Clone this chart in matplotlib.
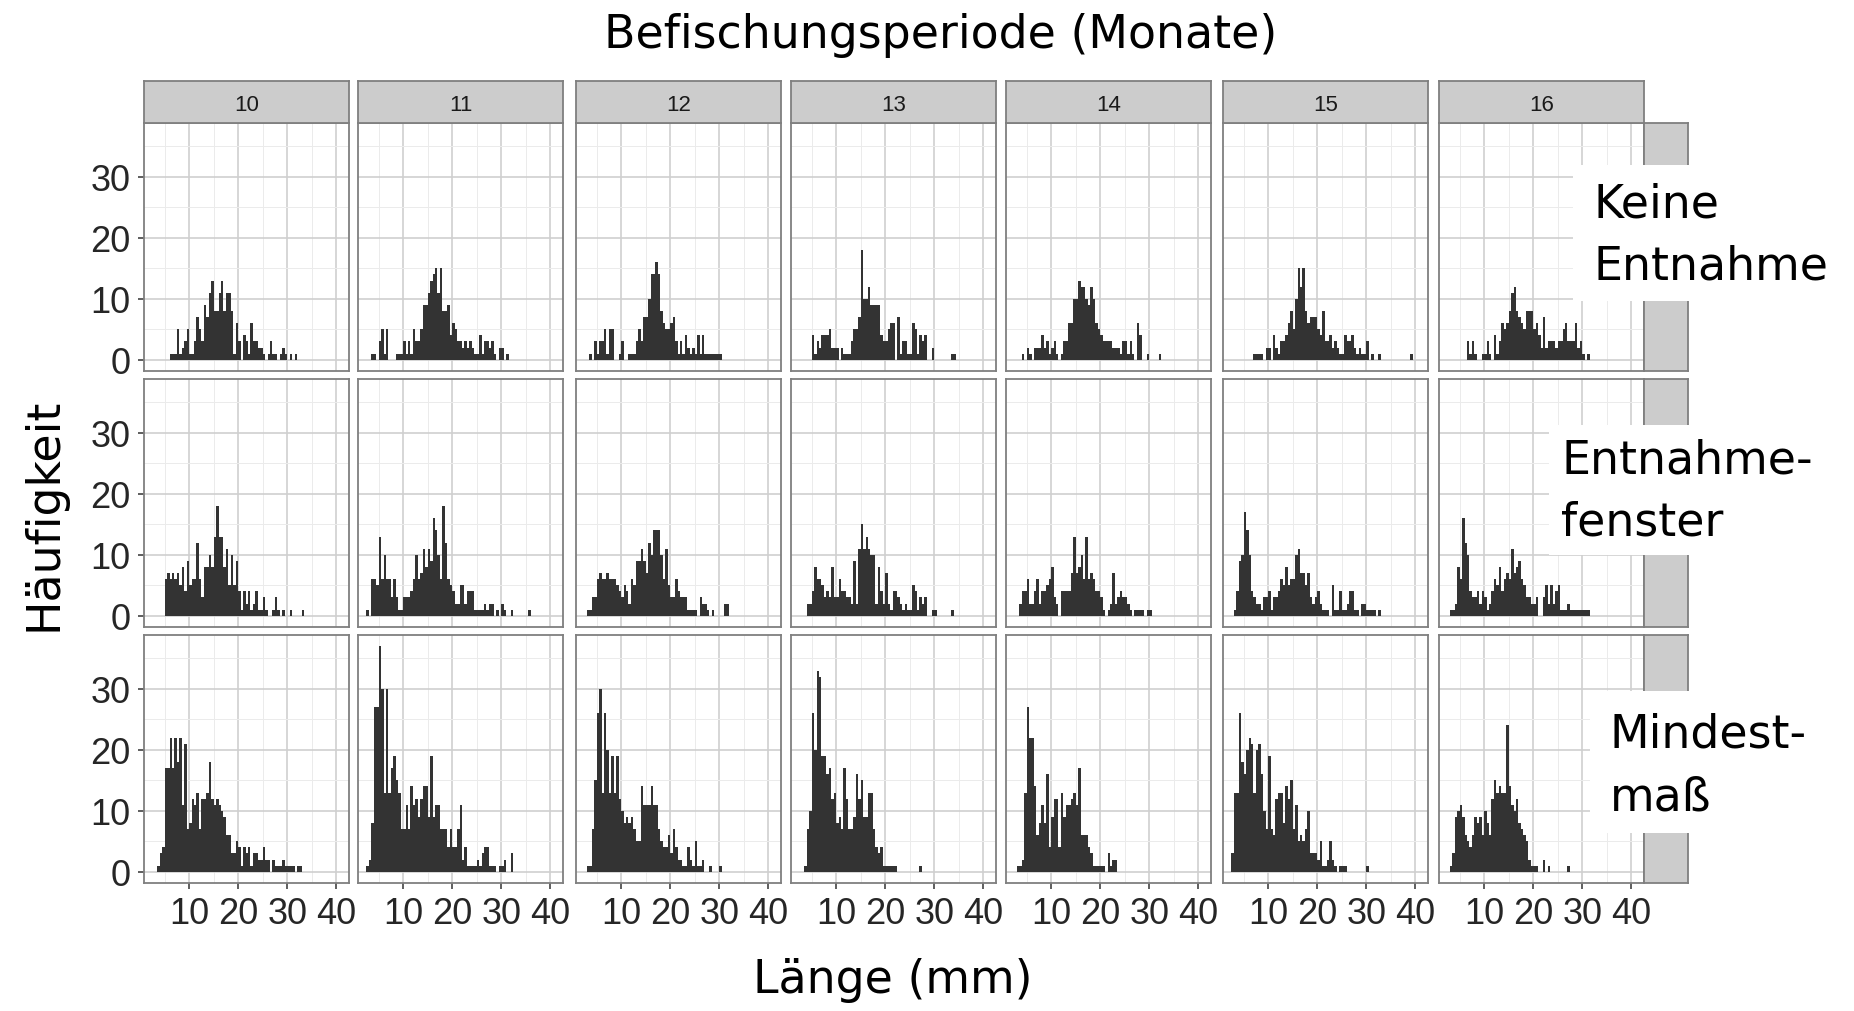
import matplotlib.pyplot as plt
from matplotlib.patches import Rectangle

# Facetten
monate = ['10', '11', '12', '13', '14', '15', '16']
behandlungen = ['Keine\nEntnahme', 'Entnahme-\nfenster', 'Mindest-\nmaß']
bin_breite = 0.5  # mm

# Keine Entnahme: Startwert (mm) der ersten Klasse und Häufigkeiten je 0.5-mm-Klasse
keine_start = [6.0, 3.5, 3.5, 5.0, 4.0, 7.0, 6.5]
keine_counts = [
    [1, 1, 1, 5, 1, 2, 3, 5, 1, 1, 3, 7, 5, 3, 9, 7, 11, 13, 8, 8, 11, 13, 8, 11, 11, 8, 1, 6, 3, 0,
     4, 3, 1, 6, 3, 3, 2, 2, 1, 0, 1, 3, 1, 1, 0, 1, 2, 1, 0, 1, 0, 1],
    [1, 1, 0, 3, 5, 1, 5, 0, 0, 0, 1, 1, 1, 3, 1, 3, 1, 5, 3, 3, 5, 9, 9, 11, 13, 14, 15, 11, 15, 8,
     8, 9, 4, 6, 5, 3, 3, 2, 3, 2, 3, 2, 1, 1, 4, 1, 3, 3, 2, 3, 1, 0, 2, 2, 0, 1],
    [1, 0, 3, 1, 3, 3, 5, 1, 5, 5, 0, 0, 1, 3, 0, 0, 1, 1, 1, 3, 5, 3, 7, 7, 10, 14, 14, 16, 14, 8,
     6, 5, 5, 6, 7, 3, 1, 3, 1, 4, 2, 1, 2, 1, 4, 1, 4, 1, 1, 1, 1, 1, 1, 1],
    [4, 1, 3, 2, 4, 4, 4, 5, 2, 2, 2, 0, 2, 1, 1, 1, 3, 5, 5, 7, 18, 10, 10, 12, 9, 9, 9, 9, 4, 3,
     3, 5, 6, 6, 0, 7, 1, 3, 3, 1, 1, 6, 5, 1, 4, 3, 4, 0, 0, 2, 0, 0, 0, 0, 0, 0, 0, 1, 1],
    [1, 0, 2, 1, 0, 2, 2, 2, 4, 2, 3, 1, 2, 3, 1, 0, 1, 3, 3, 6, 6, 10, 10, 13, 12, 12, 10, 9, 12, 10,
     6, 5, 4, 3, 3, 3, 3, 2, 2, 2, 1, 3, 3, 1, 3, 1, 0, 6, 4, 0, 0, 1, 0, 0, 0, 0, 1],
    [1, 1, 1, 1, 0, 2, 2, 0, 4, 2, 1, 3, 3, 4, 6, 8, 5, 10, 15, 12, 15, 8, 6, 7, 7, 7, 5, 4, 8, 3,
     3, 4, 2, 3, 2, 1, 1, 4, 3, 3, 4, 2, 1, 2, 1, 1, 3, 0, 1, 0, 0, 1, 0, 0, 0, 0, 0, 0, 0, 0,
     0, 0, 0, 0, 1],
    [3, 1, 3, 1, 0, 0, 1, 1, 3, 1, 0, 4, 1, 3, 6, 5, 6, 8, 11, 12, 8, 7, 6, 5, 8, 8, 8, 5, 6, 4,
     2, 7, 2, 3, 3, 3, 2, 3, 3, 5, 6, 3, 3, 3, 6, 2, 3, 1, 0, 1],
]

# Entnahmefenster
fenster_start = [5.0, 2.5, 3.0, 4.0, 3.5, 3.0, 3.0]
fenster_counts = [
    [6, 7, 6, 7, 6, 7, 5, 8, 4, 9, 5, 6, 6, 12, 6, 3, 8, 8, 10, 8, 13, 18, 13, 13, 8, 11, 5, 10, 5, 9,
     4, 1, 4, 2, 4, 1, 2, 4, 1, 1, 3, 1, 0, 0, 1, 3, 1, 0, 1, 0, 0, 1, 0, 0, 0, 0, 1],
    [1, 0, 6, 6, 5, 13, 6, 10, 6, 6, 3, 6, 3, 1, 1, 3, 3, 3, 4, 6, 10, 6, 7, 11, 8, 11, 9, 16, 14, 10,
     6, 18, 12, 6, 5, 4, 2, 2, 5, 5, 2, 4, 4, 4, 1, 1, 1, 1, 2, 1, 2, 2, 0, 1, 0, 2, 1, 0, 0, 1,
     0, 0, 0, 0, 0, 0, 1],
    [1, 1, 3, 3, 6, 7, 6, 6, 7, 6, 6, 6, 5, 4, 3, 5, 4, 2, 6, 5, 9, 9, 11, 9, 7, 12, 10, 14, 14, 14,
     10, 6, 11, 5, 3, 3, 6, 4, 3, 3, 3, 1, 1, 1, 1, 0, 3, 2, 2, 1, 0, 1, 0, 0, 0, 0, 2, 2],
    [2, 2, 4, 8, 6, 6, 5, 3, 4, 3, 8, 3, 3, 6, 4, 4, 3, 3, 2, 9, 2, 11, 15, 11, 13, 11, 10, 10, 2, 8,
     4, 2, 7, 2, 1, 4, 4, 3, 2, 1, 2, 1, 1, 5, 4, 1, 3, 2, 3, 0, 0, 1, 1, 0, 0, 0, 0, 0, 0, 1],
    [2, 4, 4, 6, 2, 2, 4, 6, 2, 4, 4, 5, 6, 8, 3, 2, 0, 4, 4, 4, 4, 7, 13, 7, 8, 10, 6, 13, 6, 7,
     6, 4, 4, 3, 1, 0, 1, 2, 7, 2, 3, 4, 3, 3, 2, 1, 0, 1, 1, 1, 1, 0, 1, 1],
    [1, 4, 9, 10, 17, 14, 10, 4, 3, 2, 2, 1, 3, 3, 4, 1, 3, 3, 4, 6, 5, 8, 5, 6, 6, 10, 11, 7, 7, 5,
     7, 3, 2, 3, 4, 2, 1, 1, 1, 0, 5, 1, 1, 4, 1, 1, 2, 4, 4, 1, 1, 0, 2, 2, 1, 1, 1, 1, 0, 1],
    [1, 1, 2, 8, 6, 16, 12, 10, 4, 3, 3, 4, 2, 4, 3, 1, 2, 4, 6, 5, 8, 4, 6, 7, 6, 11, 7, 8, 9, 6,
     5, 3, 3, 2, 2, 3, 0, 0, 3, 5, 2, 5, 2, 4, 5, 1, 1, 1, 2, 1, 1, 1, 1, 1, 1, 1, 1],
]

# Mindestmaß
mindest_start = [3.5, 2.5, 3.0, 3.5, 3.0, 2.5, 3.0]
mindest_counts = [
    [1, 3, 4, 17, 17, 22, 17, 22, 18, 22, 11, 21, 7, 8, 12, 11, 13, 7, 12, 12, 13, 18, 12, 11, 12, 11, 10, 9, 6, 6,
     3, 3, 5, 4, 1, 4, 3, 4, 1, 3, 3, 2, 2, 4, 2, 2, 0, 2, 1, 1, 1, 2, 1, 1, 1, 1, 0, 1, 1],
    [1, 2, 8, 27, 27, 37, 30, 13, 30, 13, 17, 19, 15, 13, 7, 7, 11, 7, 14, 11, 12, 9, 12, 14, 14, 9, 19, 9, 11, 11,
     7, 7, 7, 4, 7, 4, 4, 7, 11, 2, 4, 1, 1, 1, 1, 2, 1, 3, 4, 4, 1, 1, 1, 0, 1, 1, 2, 0, 0, 3],
    [1, 1, 7, 15, 26, 30, 13, 26, 20, 13, 19, 13, 19, 12, 10, 8, 9, 8, 9, 7, 5, 5, 14, 11, 11, 11, 14, 11, 11, 7,
     5, 4, 4, 6, 3, 7, 4, 2, 2, 1, 1, 4, 2, 1, 5, 1, 1, 2, 0, 0, 1, 0, 0, 0, 1],
    [1, 7, 10, 26, 20, 33, 32, 19, 19, 16, 17, 12, 13, 8, 9, 7, 17, 12, 7, 7, 9, 16, 12, 15, 9, 9, 13, 13, 7, 4,
     3, 4, 1, 1, 1, 1, 1, 1, 0, 0, 0, 0, 0, 0, 0, 0, 0, 1],
    [1, 1, 2, 13, 27, 22, 22, 14, 6, 8, 11, 8, 16, 4, 9, 12, 12, 4, 13, 9, 11, 11, 12, 13, 11, 17, 6, 6, 6, 4,
     3, 1, 1, 1, 1, 1, 0, 3, 1, 2, 2],
    [3, 13, 13, 26, 18, 16, 20, 22, 21, 13, 20, 21, 16, 10, 7, 19, 7, 6, 12, 13, 13, 8, 14, 12, 15, 7, 11, 5, 6, 5,
     7, 10, 3, 3, 3, 2, 5, 1, 1, 2, 5, 2, 1, 0, 1, 1, 1, 0, 0, 0, 0, 0, 0, 0, 0, 1],
    [1, 3, 9, 10, 11, 9, 6, 5, 4, 6, 9, 8, 9, 6, 10, 8, 6, 12, 15, 13, 14, 13, 13, 24, 14, 11, 10, 12, 8, 7,
     6, 5, 2, 1, 1, 1, 0, 0, 2, 0, 1, 0, 0, 0, 0, 0, 0, 0, 1],
]

x_ticks = [10, 20, 30, 40]
y_ticks = [0, 10, 20, 30]

starts = [keine_start, fenster_start, mindest_start]
counts = [keine_counts, fenster_counts, mindest_counts]

# Layout in Pixeln
W, H = 1854, 1012
col_left = [144, 358, 576, 791, 1006, 1223, 1439]
panel_w = 205
row_top = [124, 380, 636]
panel_h = 248
strip_top = 82
strip_right_w = 44

# Position der Beschriftungsboxen rechts (x0, y0, x1, y1, Text-x, Zeilen-y)
label_boxen = [
    (1573, 166, 1833, 302, 1593, [205, 267]),
    (1549, 426, 1827, 556, 1561, [461, 523]),
    (1590, 692, 1821, 834, 1610, [735, 798]),
]

rand_farbe = '#7f7f7f'
tick_font = ['Liberation Sans Narrow', 'Liberation Sans', 'DejaVu Sans']


def fig_rect(x0, y0, w, h):
    return [x0 / W, 1 - (y0 + h) / H, w / W, h / H]


fig = plt.figure(figsize=(W / 100, H / 100), dpi=100)

for r in range(3):
    for c in range(7):
        ax = fig.add_axes(fig_rect(col_left[c], row_top[r], panel_w, panel_h))
        werte = counts[r][c]
        kanten = [starts[r][c] + i * bin_breite for i in range(len(werte))]
        ax.bar(kanten, werte, width=bin_breite, align='edge', color='#333333', linewidth=0)
        ax.set_xlim(0.8, 42.6)
        ax.set_ylim(-1.85, 38.85)
        ax.set_xticks(x_ticks)
        ax.set_yticks(y_ticks)
        ax.set_xticks([5, 15, 25, 35], minor=True)
        ax.set_yticks([5, 15, 25, 35], minor=True)
        ax.set_axisbelow(True)
        ax.grid(True, which='major', color='#cfcfcf', linewidth=1.2)
        ax.grid(True, which='minor', color='#ebebeb', linewidth=0.7)
        for s in ax.spines.values():
            s.set_color(rand_farbe)
            s.set_linewidth(1.3)
        ax.tick_params(which='minor', length=0)
        ax.tick_params(which='major', direction='out', length=4.5, width=1.1, color='#333333',
                       labelsize=26, labelcolor='#262626', pad=5)
        ax.tick_params(left=(c == 0), labelleft=(c == 0), bottom=(r == 2), labelbottom=(r == 2))
        for lab in ax.get_xticklabels() + ax.get_yticklabels():
            lab.set_family(tick_font)

    # Streifen rechts
    sax = fig.add_axes(fig_rect(col_left[-1] + panel_w, row_top[r], strip_right_w, panel_h))
    sax.set_facecolor('#cccccc')
    sax.set_xticks([])
    sax.set_yticks([])
    for s in sax.spines.values():
        s.set_color(rand_farbe)
        s.set_linewidth(1.3)

# Streifen oben mit Monaten
for c, m in enumerate(monate):
    sax = fig.add_axes(fig_rect(col_left[c], strip_top, panel_w, row_top[0] - strip_top))
    sax.set_facecolor('#cccccc')
    sax.set_xticks([])
    sax.set_yticks([])
    for s in sax.spines.values():
        s.set_color(rand_farbe)
        s.set_linewidth(1.3)
    sax.text(0.5, 0.44, m, ha='center', va='center', fontsize=16, color='#1a1a1a',
             family=tick_font, transform=sax.transAxes)

# Beschriftungen der Behandlungen (weiße Boxen)
for (x0, y0, x1, y1, tx, zeilen_y), name in zip(label_boxen, behandlungen):
    fig.add_artist(Rectangle((x0 / W, 1 - y1 / H), (x1 - x0) / W, (y1 - y0) / H,
                             transform=fig.transFigure, facecolor='white', edgecolor='none', zorder=5))
    for zeile, zy in zip(name.split('\n'), zeilen_y):
        fig.text(tx / W, 1 - zy / H, zeile, ha='left', va='center', fontsize=33,
                 family='DejaVu Sans', color='black', zorder=6)

fig.text(941 / W, 1 - 35 / H, 'Befischungsperiode (Monate)', ha='center', va='center',
         fontsize=33, family='DejaVu Sans')
fig.text(893 / W, 1 - 981 / H, 'Länge (mm)', ha='center', va='center',
         fontsize=33, family='DejaVu Sans')
fig.text(44 / W, 1 - 514 / H, 'Häufigkeit', ha='center', va='center', rotation=90,
         fontsize=33, family='DejaVu Sans')

fig.savefig('out.png', dpi=100, facecolor='white')
